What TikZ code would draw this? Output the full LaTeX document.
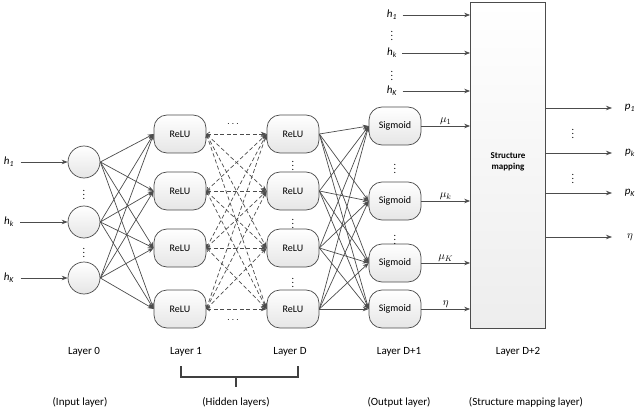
\documentclass[tikz,border=0pt]{standalone}
\usepackage{fontspec}
\setmainfont{Carlito}
\usetikzlibrary{arrows.meta}
\newcommand{\vv}[2]{\textit{#1}\textsubscript{\textit{#2}}}
\begin{document}
\begin{tikzpicture}[x=1pt,y=-1pt,
  ln/.style={draw=black!70,line width=0.7pt,-{Stealth[length=6pt,width=4.5pt]}},
  dl/.style={draw=black!70,line width=0.7pt,{Straight Barb[length=3pt,width=4pt]}-{Stealth[length=6pt,width=4.5pt]},dash pattern=on 4pt off 2.5pt},
  inn/.style={circle,draw=black!70,line width=0.7pt,top color=white,bottom color=black!10,minimum size=32pt,inner sep=0},
  rl/.style={rounded corners=13pt,draw=black!70,line width=0.7pt,top color=white,bottom color=black!10,minimum width=52pt,minimum height=38pt,font=\fontsize{10}{10}\selectfont},
  lab/.style={font=\fontsize{11}{12}\selectfont},
  vd/.style={font=\fontsize{10}{10}\selectfont,inner sep=0}]
\useasboundingbox (0,0) rectangle (640,409);
% input layer
\foreach \i/\y in {1/162,2/222,3/278}{\node[inn] (i\i) at (84,\y) {};}
\node[lab] (l1) at (9,162) {\vv{h}{1}};
\node[lab] (l2) at (9,222) {\vv{h}{k}};
\node[lab] (l3) at (9,278) {\vv{h}{K}};
\foreach \i in {1,2,3}{\draw[ln] (l\i.east)++(3,0) coordinate (c\i) -- (i\i.west);}
\node[vd] (vi1) at (84,192) {$\vdots$};
\node[vd] (vi2) at (84,250) {$\vdots$};
% hidden
\foreach \j/\y in {1/134,2/191,3/248,4/309}{
  \node[rl] (a\j) at (180,\y) {ReLU};
  \node[rl] (b\j) at (293,\y) {ReLU};}
\node[vd] (hd1) at (233,124) {$\cdots$};
\node[vd] (hd2) at (233,320) {$\cdots$};
\node[vd] (vb1) at (293,163) {$\vdots$};
\node[vd] (vb2) at (293,221) {$\vdots$};
\node[vd] (vb3) at (293,280) {$\vdots$};
% output sigmoid
\foreach \k/\y in {1/126,2/201,3/263,4/309}{\node[rl] (s\k) at (395,\y) {Sigmoid};}
\node[vd] (vs1) at (395,166) {$\vdots$};
\node[vd] (vs2) at (395,237) {$\vdots$};
% connections
\foreach \i in {1,2,3}{\foreach \j in {1,...,4}{\draw[ln] (i\i.east) -- (a\j.west);}}
\foreach \i in {1,...,4}{\foreach \j in {1,...,4}{\draw[dl] (a\i.east) -- (b\j.west);}}
\foreach \i in {1,...,4}{\foreach \j in {1,...,4}{\draw[ln] (b\i.east) -- (s\j.west);}}
% structure box
\node[draw=black!70,line width=0.7pt,top color=white,bottom color=black!7,minimum width=75pt,minimum height=326pt,inner sep=0] (box) at (508,165) {};
\node[font=\fontsize{9}{11}\selectfont\bfseries,align=center] (sm) at (508,162) {Structure\\mapping};
% sigmoid outputs
\foreach \k/\t in {1/{$\mu_1$},2/{$\mu_k$},3/{$\mu_K$},4/{$\eta$}}{
  \draw[ln] (s\k.east) -- (s\k.east -| box.west) node[midway,above,lab,inner sep=1pt] {\t};}
% top inputs
\foreach \n/\y/\t in {t1/15/{\vv{h}{1}},t2/53/{\vv{h}{k}},t3/91/{\vv{h}{K}}}{
  \node[lab] (\n) at (392,\y) {\t};
  \draw[ln] (\n.east)++(2,0) -- (\n.east -| box.west);}
\node[vd] (vt1) at (392,33) {$\vdots$};
\node[vd] (vt2) at (392,73) {$\vdots$};
% right outputs
\foreach \n/\y/\t in {p1/108/{\vv{p}{1}},p2/153/{\vv{p}{k}},p3/193/{\vv{p}{K}},p4/237/{$\eta$}}{
  \node[lab] (\n) at (630,\y) {\t};
  \coordinate (e\n) at (612,\y);
  \draw[ln] (e\n -| box.east) -- (e\n);}
\node[vd] (vp1) at (573,131) {$\vdots$};
\node[vd] (vp2) at (573,176) {$\vdots$};
% bottom labels
\node[lab] (L0) at (84,352) {Layer 0};
\node[lab] (L1) at (186,352) {Layer 1};
\node[lab] (LD) at (290,352) {Layer D};
\node[lab] (LD1) at (399,352) {Layer D+1};
\node[lab] (LD2) at (518,352) {Layer D+2};
\coordinate (bm) at (236,387);
\draw[line width=1.1pt,black!75] (181,366) |- (298,377) -- (298,366) (bm |- 0,377) -- (bm);
\node[lab] (P0) at (80,402) {(Input layer)};
\node[lab] (P1) at (236,402) {(Hidden layers)};
\node[lab] (P2) at (399,402) {(Output layer)};
\node[lab] (P3) at (526,402) {(Structure mapping layer)};
\end{tikzpicture}
\end{document}
